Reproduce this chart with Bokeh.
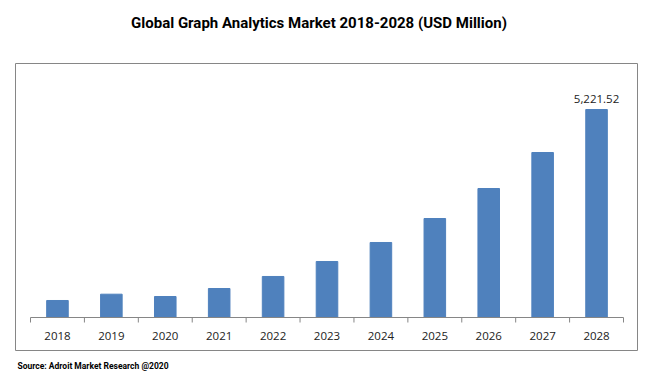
from bokeh.plotting import figure
from bokeh.models import ColumnDataSource, Range1d, Label, BoxAnnotation
from bokeh.core.properties import value
from bokeh.embed import file_html
from bokeh.resources import INLINE

years = ["2018", "2019", "2020", "2021", "2022", "2023", "2024", "2025", "2026", "2027", "2028"]
values = [427, 585, 527, 728, 1030, 1406, 1883, 2485, 3238, 4142, 5221.52]
label_text = ["", "", "", "", "", "", "", "", "", "", "5,221.52"]
title_text = "Global Graph Analytics Market 2018-2028 (USD Million)"
source_text = "Source: Adroit Market Research @2020"

n = len(years)
xs = list(range(n))
W, H = 645, 372
# layout (pixels): category axis runs from x=30 to x=623, baseline at y=317 from top
ax_left, ax_right, base_y = 30, 623, 317
cat_w = (ax_right - ax_left) / n
# value units per pixel (tallest bar is 208 px in the reference)
k = max(values) / 208.0

src = ColumnDataSource(dict(x=xs, top=values, lbl=label_text, years=years,
                            ylab=[-18 * k] * n))
bounds = [i - 0.5 for i in range(n + 1)]
ticks = ColumnDataSource(dict(x=bounds, y0=[0] * len(bounds), y1=[-5 * k] * len(bounds)))

p = figure(width=W, height=H, output_backend="svg", toolbar_location=None,
           x_range=Range1d(-0.5 - ax_left / cat_w, n - 0.5 + (W - ax_right) / cat_w),
           y_range=Range1d(-(H - base_y) * k, base_y * k),
           x_axis_location=None, y_axis_location=None,
           min_border_left=0, min_border_right=0, min_border_top=0, min_border_bottom=0)
p.outline_line_color = None
p.xgrid.visible = False
p.ygrid.visible = False
p.background_fill_color = "white"
p.border_fill_color = "white"

p.vbar(x="x", top="top", width=0.4, bottom=0, source=src, color="#4F81BD")

# category axis line and boundary ticks
p.segment(x0=bounds[0], x1=bounds[-1], y0=0, y1=0, line_color="#868686", line_width=1)
p.segment(x0="x", x1="x", y0="y0", y1="y1", source=ticks, line_color="#868686", line_width=1)
p.text(x="x", y="ylab", text="years", source=src, text_align="center",
       text_baseline="middle", text_font=value("Open Sans"), text_font_size="11.5px",
       text_color="#222222")

# data label
p.text(x="x", y="top", text="lbl", source=src, text_align="center",
       text_baseline="bottom", y_offset=-7, text_font=value("Open Sans"),
       text_font_size="11.5px", text_color="#222222")

# chart-area border
p.add_layout(BoxAnnotation(left=15, right=637, top=H - 63, bottom=H - 350,
                           left_units="screen", right_units="screen",
                           top_units="screen", bottom_units="screen",
                           fill_alpha=0, line_color="#868686", line_alpha=1, line_width=1))

p.add_layout(Label(x=318.5, y=H - 22, x_units="screen", y_units="screen", text=title_text,
                   text_align="center", text_baseline="middle", text_font="Roboto",
                   text_font_style="bold", text_font_size="15px", text_color="black"))
p.add_layout(Label(x=17, y=H - 365, x_units="screen", y_units="screen", text=source_text,
                   text_align="left", text_baseline="middle", text_font="Roboto",
                   text_font_style="bold", text_font_size="8.5px", text_color="black"))

open("out.html", "w").write(file_html(p, INLINE))
